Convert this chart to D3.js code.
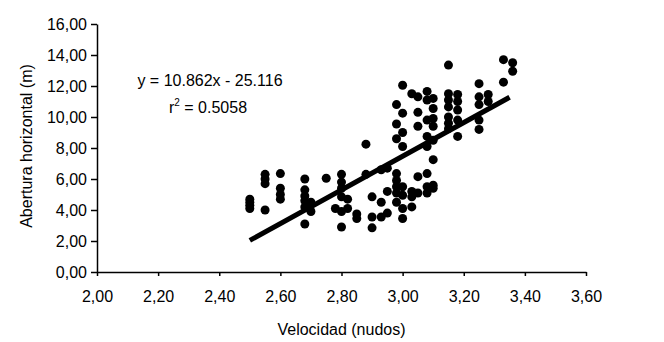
<!DOCTYPE html>
<html>
<head>
<meta charset="utf-8">
<script src="https://cdn.jsdelivr.net/npm/d3@7"></script>
<style>
  body { margin: 0; background: #fff; }
  svg { font-family: "Liberation Sans", Arial, sans-serif; }
</style>
</head>
<body>
<div id="chart"></div>
<script>
// velocity (knots) and horizontal opening (m)
const velocidad = [
  2.50, 2.50, 2.50, 2.50,
  2.55, 2.55, 2.55, 2.55,
  2.60, 2.60, 2.60, 2.60,
  2.68, 2.68, 2.68, 2.68, 2.68, 2.68,
  2.70, 2.70,
  2.75,
  2.78,
  2.80, 2.80, 2.80, 2.80, 2.80, 2.80,
  2.82, 2.82,
  2.85, 2.85,
  2.88, 2.88,
  2.90, 2.90, 2.90,
  2.93, 2.93, 2.93,
  2.95, 2.95, 2.95,
  2.98, 2.98, 2.98, 2.98, 2.98, 2.98, 2.98, 2.98,
  3.00, 3.00, 3.00, 3.00, 3.00, 3.00, 3.00, 3.00,
  3.03, 3.03, 3.03, 3.03,
  3.05, 3.05, 3.05, 3.05, 3.05,
  3.08, 3.08, 3.08, 3.08, 3.08, 3.08, 3.08, 3.08,
  3.10, 3.10, 3.10, 3.10, 3.10, 3.10, 3.10, 3.10,
  3.15, 3.15, 3.15, 3.15, 3.15, 3.15, 3.15,
  3.18, 3.18, 3.18, 3.18, 3.18,
  3.25, 3.25, 3.25, 3.25, 3.25,
  3.28, 3.28,
  3.33, 3.33,
  3.36, 3.36
];
const abertura = [
  4.7, 4.5, 4.3, 4.1,
  6.3, 6.0, 5.7, 4.0,
  6.35, 5.4, 5.0, 4.7,
  6.0, 5.3, 4.9, 4.6, 4.2, 3.1,
  4.5, 3.9,
  6.05,
  4.1,
  6.3, 5.8, 5.4, 4.85, 3.9, 2.9,
  4.7, 4.1,
  3.75, 3.45,
  8.25, 6.3,
  4.85, 3.55, 2.85,
  6.6, 4.5, 3.55,
  6.7, 5.2, 3.8,
  10.8, 9.55, 8.6, 6.35, 5.9, 5.5, 5.1, 4.5,
  12.05, 10.25, 9.0, 8.1, 5.5, 4.95, 4.1, 3.45,
  11.5, 5.2, 4.85, 4.2,
  11.3, 10.3, 9.4, 6.15, 5.1,
  11.65, 11.1, 9.8, 8.75, 8.1, 6.35, 5.5, 5.1,
  11.2, 10.55, 9.9, 9.4, 8.5, 7.25, 5.6, 5.4,
  13.35, 11.5, 11.1, 10.65, 10.0, 9.6, 9.25,
  11.45, 11.0, 10.45, 9.8, 8.75,
  12.15, 11.3, 10.8, 9.8, 9.2,
  11.45, 11.0,
  13.7, 12.25,
  13.5, 12.95
];

// trend line y = 10.862x - 25.116
const slope = 10.862;
const intercept = -25.116;
const trendX = [2.50, 3.35];

const xTicks = d3.range(2.0, 3.61, 0.2);
const yTicks = d3.range(0, 16.1, 2);

const width = 664, height = 342;
const margin = { top: 24, right: 78, bottom: 70, left: 97 };
const chartWidth = width - margin.left - margin.right;
const chartHeight = height - margin.top - margin.bottom;

const svg = d3.select("#chart")
  .append("svg")
  .attr("width", width)
  .attr("height", height);

const g = svg.append("g")
  .attr("transform", `translate(${margin.left},${margin.top})`);

const x = d3.scaleLinear().domain([2.0, 3.6]).range([0, chartWidth]);
const y = d3.scaleLinear().domain([0, 16]).range([chartHeight, 0]);

const fmt = d => d.toFixed(2).replace(".", ",");

// Axes
const xAxis = g.append("g")
  .attr("transform", `translate(0,${chartHeight})`)
  .call(d3.axisBottom(x).tickValues(xTicks).tickFormat(fmt).tickSize(4).tickSizeOuter(0).tickPadding(15));

const yAxis = g.append("g")
  .call(d3.axisLeft(y).tickValues(yTicks).tickFormat(fmt).tickSize(6).tickSizeOuter(0).tickPadding(4));

[xAxis, yAxis].forEach(a => {
  a.selectAll("path, line").attr("stroke", "#000").attr("stroke-width", 1.5);
  a.selectAll("text").attr("fill", "#000").style("font-size", "16px");
});

// Points
const points = velocidad.map((v, i) => ({ v, a: abertura[i] }));
g.selectAll("circle.pt")
  .data(points)
  .join("circle")
  .attr("class", "pt")
  .attr("cx", d => x(d.v))
  .attr("cy", d => y(d.a))
  .attr("r", 4.5)
  .attr("fill", "#000");

// Trend line
g.append("path")
  .datum(trendX)
  .attr("fill", "none")
  .attr("stroke", "#000")
  .attr("stroke-width", 5)
  .attr("d", d3.line().x(d => x(d)).y(d => y(slope * d + intercept)));

// Equation
svg.append("text")
  .attr("x", 210)
  .attr("y", 86)
  .attr("text-anchor", "middle")
  .style("font-size", "16px")
  .text("y = 10.862x - 25.116");

const r2 = svg.append("text")
  .attr("x", 208)
  .attr("y", 113)
  .attr("text-anchor", "middle")
  .style("font-size", "16px");
r2.append("tspan").text("r");
r2.append("tspan").attr("dy", -7).style("font-size", "10px").text("2");
r2.append("tspan").attr("dy", 7).text(" = 0.5058");

// Axis titles
svg.append("text")
  .attr("x", margin.left + chartWidth / 2)
  .attr("y", 335)
  .attr("text-anchor", "middle")
  .style("font-size", "16px")
  .text("Velocidad (nudos)");

svg.append("text")
  .attr("transform", `translate(32,${margin.top + chartHeight / 2 - 2}) rotate(-90)`)
  .attr("text-anchor", "middle")
  .style("font-size", "16px")
  .text("Abertura horizontal (m)");
</script>
</body>
</html>
